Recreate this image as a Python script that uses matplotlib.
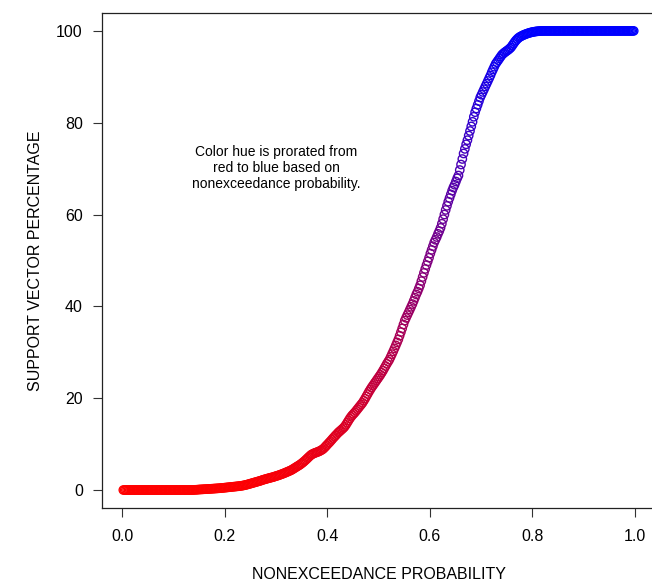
import matplotlib
matplotlib.use("Agg")
import matplotlib.pyplot as plt
import numpy as np

plt.rcParams["font.family"] = ["Liberation Sans", "DejaVu Sans"]

# sorted support vector percentages (lowest first)
pct_zero = [0.0] * 55
pct_rise = [
    0.02, 0.04, 0.05, 0.07, 0.1,
    0.12, 0.13, 0.15, 0.17, 0.18, 0.2, 0.22, 0.23, 0.25, 0.27,
    0.29, 0.31, 0.33, 0.35, 0.37, 0.39, 0.42, 0.44, 0.47, 0.5,
    0.53, 0.56, 0.59, 0.62, 0.65, 0.68, 0.71, 0.74, 0.77, 0.8,
    0.83, 0.87, 0.91, 0.95, 1.0,
    1.06, 1.13, 1.2, 1.28, 1.36, 1.44, 1.52, 1.6, 1.68, 1.76,
    1.84, 1.92, 2.0, 2.1, 2.2,
    2.28, 2.36, 2.44, 2.52, 2.6, 2.67, 2.74, 2.81, 2.9, 3.0,
    3.08, 3.17, 3.27, 3.37, 3.47, 3.58, 3.69, 3.81, 3.93, 4.05, 4.17, 4.3,
    4.45, 4.62, 4.8, 4.98, 5.15, 5.32, 5.5, 5.7,
    5.92, 6.15, 6.4, 6.66, 6.93, 7.2, 7.45, 7.7,
    7.85, 7.98, 8.1, 8.2, 8.3, 8.42, 8.55, 8.72, 8.9,
    9.15, 9.45, 9.75, 10.05, 10.35, 10.65, 10.97, 11.3,
    11.6, 11.9, 12.2, 12.5, 12.75, 13.0, 13.25, 13.5, 13.8,
    14.2, 14.65, 15.1, 15.55, 15.95, 16.3, 16.6,
    16.9, 17.25, 17.6, 17.95, 18.3, 18.65, 19.0,
    19.45, 19.9, 20.4, 20.9, 21.4, 21.85, 22.3, 22.7,
    23.1, 23.5, 23.9, 24.3, 24.7, 25.1,
    25.55, 26.0, 26.5, 27.0, 27.5, 27.95, 28.4,
    29.0, 29.6, 30.2, 30.85, 31.5, 32.15, 32.8,
    33.6, 34.4, 35.2, 36.05, 36.9,
    37.5, 38.1, 38.7, 39.3, 39.9, 40.5,
    41.2, 41.9, 42.6, 43.2, 43.9, 44.6,
    45.5, 46.4, 47.3, 48.15, 49.0,
    49.8, 50.6, 51.5, 52.3, 53.1, 53.9,
    54.5, 55.1, 55.8, 56.4, 57.1,
    58.0, 59.0, 60.0, 61.0, 61.9, 62.8,
    63.6, 64.4, 65.2,
    65.9, 66.5, 67.2, 67.9, 68.5,
    69.7, 70.9, 72.1, 73.3,
    74.3, 75.3, 76.2, 77.2, 78.2,
    79.2, 80.2, 81.3, 82.3,
    83.1, 83.9, 84.7, 85.5,
    86.1, 86.7, 87.3, 87.9, 88.5, 89.1,
    89.7, 90.3, 91.0, 91.6, 92.2, 92.8,
    93.2, 93.6, 94.0, 94.4, 94.8,
    95.05, 95.3, 95.5, 95.7, 95.9, 96.15, 96.4,
    96.8, 97.2, 97.6, 97.95, 98.25, 98.5,
    98.7, 98.85, 99.0, 99.12, 99.24, 99.35, 99.45, 99.54, 99.62, 99.7,
    99.76, 99.81, 99.86, 99.9, 99.93, 99.96, 99.98, 99.99,
]
pct_full = [100.0] * 72

x_ticks = [0.0, 0.2, 0.4, 0.6, 0.8, 1.0]
y_ticks = [0, 20, 40, 60, 80, 100]
note = "Color hue is prorated from\nred to blue based on\nnonexceedance probability."

support = np.array(pct_zero + pct_rise + pct_full)
n = len(support)
prob = np.arange(1, n + 1) / (n + 1)  # Weibull plotting positions
frac = support / 100.0
colors = np.column_stack([1 - frac, np.zeros(n), frac])

fig = plt.figure(figsize=(6.52, 5.84), dpi=100)
ax = fig.add_axes([0.1557, 0.1295, 0.8497, 0.849])

ax.scatter(prob, support, s=36, facecolors="none", edgecolors=colors,
           linewidths=1.0, clip_on=False)

ax.set_xlim(-0.04, 1.04)
ax.set_ylim(-4, 104)
ax.set_xticks(x_ticks)
ax.set_xticklabels([f"{v:.1f}" for v in x_ticks])
ax.set_yticks(y_ticks)
ax.set_yticklabels([str(v) for v in y_ticks])
ax.tick_params(axis="both", direction="out", length=6.5, width=0.8,
               labelsize=11.5, color="#333333")
ax.tick_params(axis="x", pad=8.5)
ax.tick_params(axis="y", pad=7)
for sp in ax.spines.values():
    sp.set_linewidth(0.9)
    sp.set_color("#222222")

ax.text(0.5, -0.134, "NONEXCEEDANCE PROBABILITY", transform=ax.transAxes,
        ha="center", va="center", fontsize=11.5)
ax.text(-0.120, 0.5, "SUPPORT VECTOR PERCENTAGE", transform=ax.transAxes,
        ha="center", va="center", rotation=90, fontsize=11.5)

ax.text(0.301, 70.2, note, ha="center", va="center", fontsize=10,
        linespacing=1.2)

fig.savefig("out.png", dpi=100)
